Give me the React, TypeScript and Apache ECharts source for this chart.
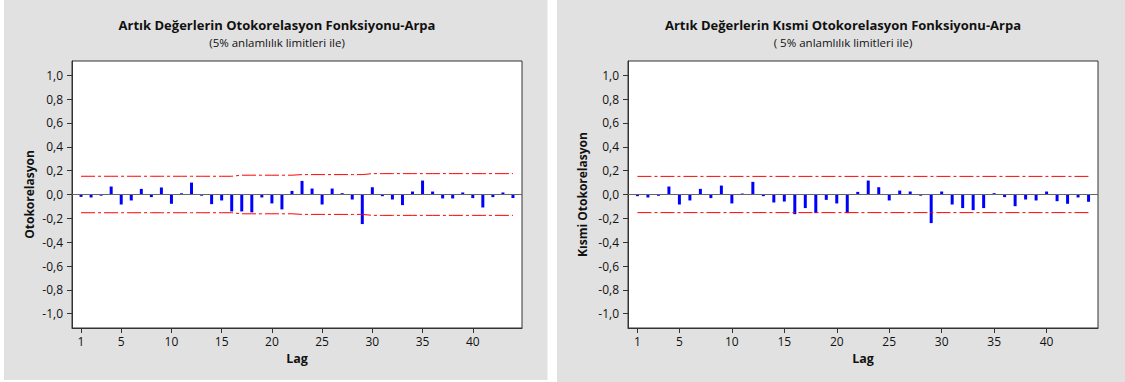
import React, { useEffect, useRef } from "react";
import * as echarts from "echarts";

const lags = [
  1, 2, 3, 4, 5, 6, 7, 8, 9, 10, 11, 12, 13, 14, 15, 16, 17, 18, 19, 20, 21, 22,
  23, 24, 25, 26, 27, 28, 29, 30, 31, 32, 33, 34, 35, 36, 37, 38, 39, 40, 41, 42, 43, 44,
];

const acfValues = [
  -0.02, -0.025, -0.01, 0.067, -0.084, -0.05, 0.047, -0.022, 0.059, -0.078,
  0.01, 0.1, -0.01, -0.081, -0.05, -0.142, -0.142, -0.15, -0.025, -0.075,
  -0.125, 0.03, 0.114, 0.05, -0.084, 0.05, 0.011, -0.042, -0.248, 0.061,
  -0.014, -0.042, -0.089, 0.025, 0.117, 0.025, -0.033, -0.033, 0.017, -0.03,
  -0.109, -0.022, 0.017, -0.03,
];

const acfLimits = [
  0.153, 0.153, 0.153, 0.153, 0.153, 0.153, 0.153, 0.153, 0.153, 0.153,
  0.153, 0.153, 0.153, 0.153, 0.153, 0.153, 0.162, 0.162, 0.162, 0.162,
  0.162, 0.162, 0.167, 0.167, 0.167, 0.167, 0.167, 0.167, 0.167, 0.175,
  0.175, 0.175, 0.175, 0.175, 0.175, 0.175, 0.175, 0.175, 0.175, 0.175,
  0.175, 0.175, 0.175, 0.175,
];

const pacfValues = [
  -0.014, -0.025, -0.011, 0.067, -0.084, -0.05, 0.047, -0.03, 0.075, -0.075,
  0.008, 0.106, -0.014, -0.067, -0.059, -0.165, -0.114, -0.156, -0.045, -0.075,
  -0.156, 0.022, 0.117, 0.061, -0.05, 0.033, 0.025, -0.01, -0.24, 0.025,
  -0.084, -0.114, -0.131, -0.114, 0.011, -0.022, -0.098, -0.042, -0.05, 0.025,
  -0.056, -0.078, -0.025, -0.061,
];

const pacfLimit = 0.152;

const xTickLabels = [1, 5, 10, 15, 20, 25, 30, 35, 40];
const yTickLabels = [-1.0, -0.8, -0.6, -0.4, -0.2, 0.0, 0.2, 0.4, 0.6, 0.8, 1.0];

const titles = [
  "Artık Değerlerin Otokorelasyon Fonksiyonu-Arpa",
  "Artık Değerlerin Kısmi Otokorelasyon Fonksiyonu-Arpa",
];
const subtitles = ["(5% anlamlılık limitleri ile)", "( 5% anlamlılık limitleri ile)"];
const yNames = ["Otokorelasyon", "Kısmi Otokorelasyon"];

const FONT = '"Open Sans", "DejaVu Sans", sans-serif';

function fmt(v: number) {
  if (Math.abs(v) < 1e-9) return "0,0";
  return v.toFixed(1).replace(".", ",");
}

export default function App() {
  const ref = useRef<HTMLDivElement>(null);
  useEffect(() => {
    if (!ref.current) return;
    const chart = echarts.init(ref.current, undefined, { renderer: "svg" });

    const grids = [
      { left: 72, top: 61, width: 450, height: 267 },
      { left: 628, top: 61, width: 470, height: 267 },
    ];
    const panels = [
      { x: 4, y: 0, w: 543.5, h: 380, cx: 277 },
      { x: 557, y: 0, w: 568, h: 382, cx: 843 },
    ];
    const nameGaps = [37, 40];

    const xAxes = [0, 1].map((i) => ({
      type: "value",
      gridIndex: i,
      min: 0.1,
      max: 44.9,
      axisLine: { show: true, onZero: false, lineStyle: { color: "#333", width: 1 } },
      splitLine: { show: false },
      axisTick: {
        show: true,
        inside: false,
        length: 5,
        customValues: xTickLabels,
        lineStyle: { color: "#333", width: 1 },
      },
      axisLabel: {
        customValues: xTickLabels,
        margin: 7,
        fontSize: 12,
        color: "#111",
        fontFamily: FONT,
      },
      name: "Lag",
      nameLocation: "middle",
      nameGap: 22,
      nameTextStyle: { fontWeight: "bold", fontSize: 12.5, color: "#111", fontFamily: FONT },
    }));

    const yAxes = [0, 1].map((i) => ({
      type: "value",
      gridIndex: i,
      min: -1.12,
      max: 1.12,
      axisLine: { show: true, onZero: false, lineStyle: { color: "#333", width: 1 } },
      splitLine: { show: false },
      axisTick: {
        show: true,
        inside: false,
        length: 5,
        customValues: yTickLabels,
        lineStyle: { color: "#333", width: 1 },
      },
      axisLabel: {
        customValues: yTickLabels,
        margin: 9,
        fontSize: 12,
        color: "#111",
        fontFamily: FONT,
        formatter: (v: number) => fmt(v),
      },
      name: yNames[i],
      nameLocation: "middle",
      nameGap: nameGaps[i],
      nameTextStyle: { fontWeight: "bold", fontSize: 12, color: "#111", fontFamily: FONT },
    }));

    const dash = [14, 3, 3, 3];
    const series: any[] = [];
    const barSets = [acfValues, pacfValues];
    barSets.forEach((vals, i) => {
      series.push({
        type: "bar",
        xAxisIndex: i,
        yAxisIndex: i,
        data: lags.map((l, k) => [l, vals[k]]),
        barWidth: 3,
        itemStyle: { color: "#0000ff" },
        markLine: {
          silent: true,
          symbol: "none",
          label: { show: false },
          lineStyle: { color: "#666", type: "solid", width: 1 },
          data: [{ yAxis: 0 }],
        },
      });
    });
    series.push({
      type: "line",
      xAxisIndex: 0,
      yAxisIndex: 0,
      data: lags.map((l, k) => [l, acfLimits[k]]),
      symbol: "none",
      lineStyle: { color: "#ff0000", width: 1, type: dash },
    });
    series.push({
      type: "line",
      xAxisIndex: 0,
      yAxisIndex: 0,
      data: lags.map((l, k) => [l, -acfLimits[k]]),
      symbol: "none",
      lineStyle: { color: "#ff0000", width: 1, type: dash },
    });
    series.push({
      type: "line",
      xAxisIndex: 1,
      yAxisIndex: 1,
      data: [
        [lags[0], pacfLimit],
        [lags[lags.length - 1], pacfLimit],
      ],
      symbol: "none",
      lineStyle: { color: "#ff0000", width: 1, type: dash },
    });
    series.push({
      type: "line",
      xAxisIndex: 1,
      yAxisIndex: 1,
      data: [
        [lags[0], -pacfLimit],
        [lags[lags.length - 1], -pacfLimit],
      ],
      symbol: "none",
      lineStyle: { color: "#ff0000", width: 1, type: dash },
    });

    const graphics: any[] = [];
    panels.forEach((p, i) => {
      graphics.push({
        type: "rect",
        z: -100,
        silent: true,
        shape: { x: p.x, y: p.y, width: p.w, height: p.h },
        style: { fill: "#e1e1e1" },
      });
      graphics.push({
        type: "text",
        z: 10,
        x: p.cx,
        y: 25,
        style: {
          text: titles[i],
          align: "center",
          verticalAlign: "middle",
          fontSize: 13,
          fontWeight: "bold",
          fontFamily: FONT,
          fill: "#111",
        },
      });
      graphics.push({
        type: "text",
        z: 10,
        x: p.cx,
        y: 42,
        style: {
          text: subtitles[i],
          align: "center",
          verticalAlign: "middle",
          fontSize: 11.5,
          fontFamily: FONT,
          fill: "#111",
        },
      });
    });

    chart.setOption({
      animation: false,
      backgroundColor: "#ffffff",
      grid: grids.map((g) => ({
        ...g,
        show: true,
        backgroundColor: "#ffffff",
        borderColor: "#333",
        borderWidth: 1,
        containLabel: false,
      })),
      xAxis: xAxes,
      yAxis: yAxes,
      series,
      graphic: graphics,
    });

    return () => chart.dispose();
  }, []);

  return (
    <div
      ref={ref}
      style={{ position: "fixed", left: 0, top: 0, width: 1125, height: 382 }}
    />
  );
}
